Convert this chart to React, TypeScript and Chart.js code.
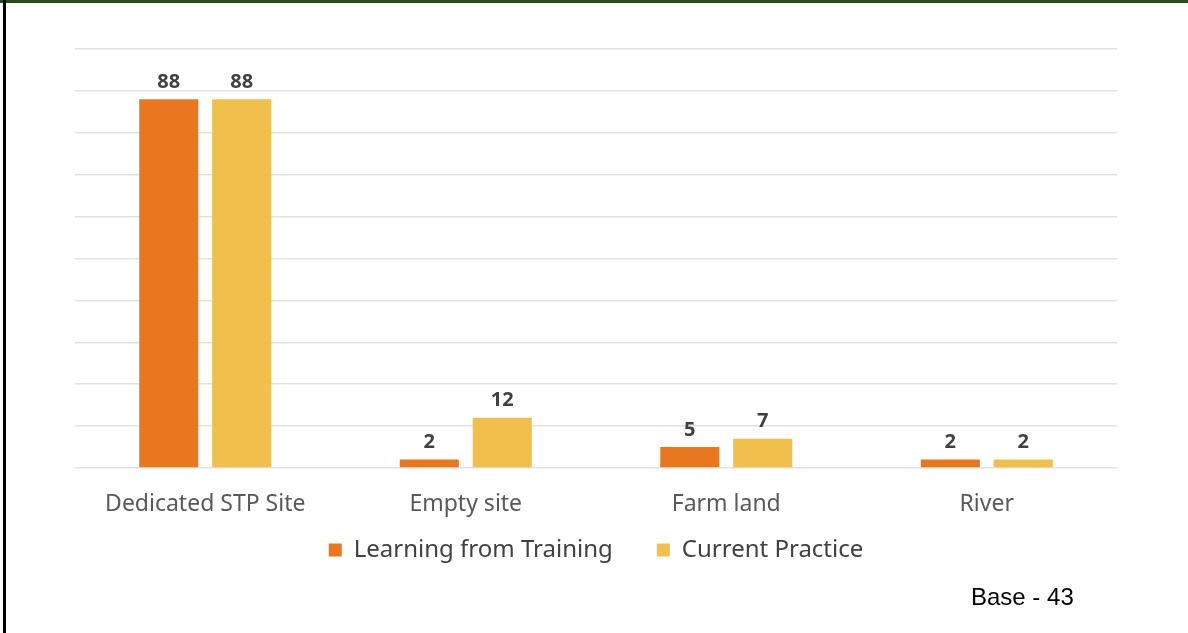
import React, { useEffect, useRef } from "react";
import { Chart, registerables } from "chart.js";

Chart.register(...registerables);

const categories = ["Dedicated STP Site", "Empty site", "Farm land", "River"];
const learningFromTraining = [88, 2, 5, 2];
const currentPractice = [88, 12, 7, 2];
const seriesNames = ["Learning from Training", "Current Practice"];
const baseNote = "Base - 43";

const ORANGE = "#E8771F";
const GOLD = "#F1BF4C";
const FONT = "'Noto Sans', sans-serif";

const valueLabels = {
  id: "valueLabels",
  afterLayout(chart: any) {
    // let the category labels draw below the compact axis box without clipping
    const x = chart.scales.x;
    if (x) x.bottom = x.top + 70;
  },
  afterDatasetsDraw(chart: any) {
    const ctx = chart.ctx;
    ctx.save();
    ctx.font = `bold 20px ${FONT}`;
    ctx.fillStyle = "#404040";
    ctx.textAlign = "center";
    ctx.textBaseline = "bottom";
    chart.data.datasets.forEach((ds: any, i: number) => {
      const meta = chart.getDatasetMeta(i);
      meta.data.forEach((bar: any, j: number) => {
        ctx.fillText(String(ds.data[j]), bar.x, bar.y - 7);
      });
    });
    ctx.restore();
  },
};

export default function App() {
  const ref = useRef<HTMLCanvasElement>(null);
  useEffect(() => {
    if (!ref.current) return;
    const chart = new Chart(ref.current, {
      type: "bar",
      data: {
        labels: categories,
        datasets: [
          {
            label: seriesNames[0],
            data: learningFromTraining,
            backgroundColor: ORANGE,
            categoryPercentage: 0.56,
            barPercentage: 0.81,
          },
          {
            label: seriesNames[1],
            data: currentPractice,
            backgroundColor: GOLD,
            categoryPercentage: 0.56,
            barPercentage: 0.81,
          },
        ],
      },
      options: {
        responsive: false,
        animation: false,
        layout: { padding: { left: 75, right: 71, top: 49, bottom: 61 } },
        plugins: {
          legend: {
            position: "bottom",
            labels: {
              boxWidth: 13,
              boxHeight: 13,
              padding: 44,
              color: "#404040",
              font: { family: FONT, size: 24 },
            },
          },
          tooltip: { enabled: false },
        },
        scales: {
          x: {
            grid: { display: false, drawTicks: false },
            border: { display: false },
            ticks: {
              color: "#595959",
              padding: 23,
              font: { family: FONT, size: 23 },
            },
            afterFit(scale: any) {
              scale.height = 26;
            },
          },
          y: {
            min: 0,
            max: 100,
            ticks: { display: false, stepSize: 10 },
            border: { display: false },
            grid: { color: "#e2e2e2", lineWidth: 1.5, drawTicks: false },
          },
        },
      },
      plugins: [valueLabels],
    });
    return () => chart.destroy();
  }, []);

  return (
    <div style={{ position: "absolute", left: 0, top: 0, width: 1188, height: 633, background: "#fff", overflow: "hidden" }}>
      <canvas ref={ref} width={1188} height={633} style={{ position: "absolute", left: 0, top: 0 }} />
      <div style={{ position: "absolute", left: 0, top: 0, width: 1188, height: 3, background: "#2a4a18" }} />
      <div style={{ position: "absolute", left: 3, top: 0, width: 3, height: 633, background: "#000" }} />
      <div
        style={{
          position: "absolute",
          left: 971,
          top: 583,
          fontFamily: "'Liberation Sans', Arial, sans-serif",
          fontSize: 24,
          color: "#000",
          lineHeight: "28px",
          whiteSpace: "nowrap",
        }}
      >
        {baseNote}
      </div>
    </div>
  );
}
